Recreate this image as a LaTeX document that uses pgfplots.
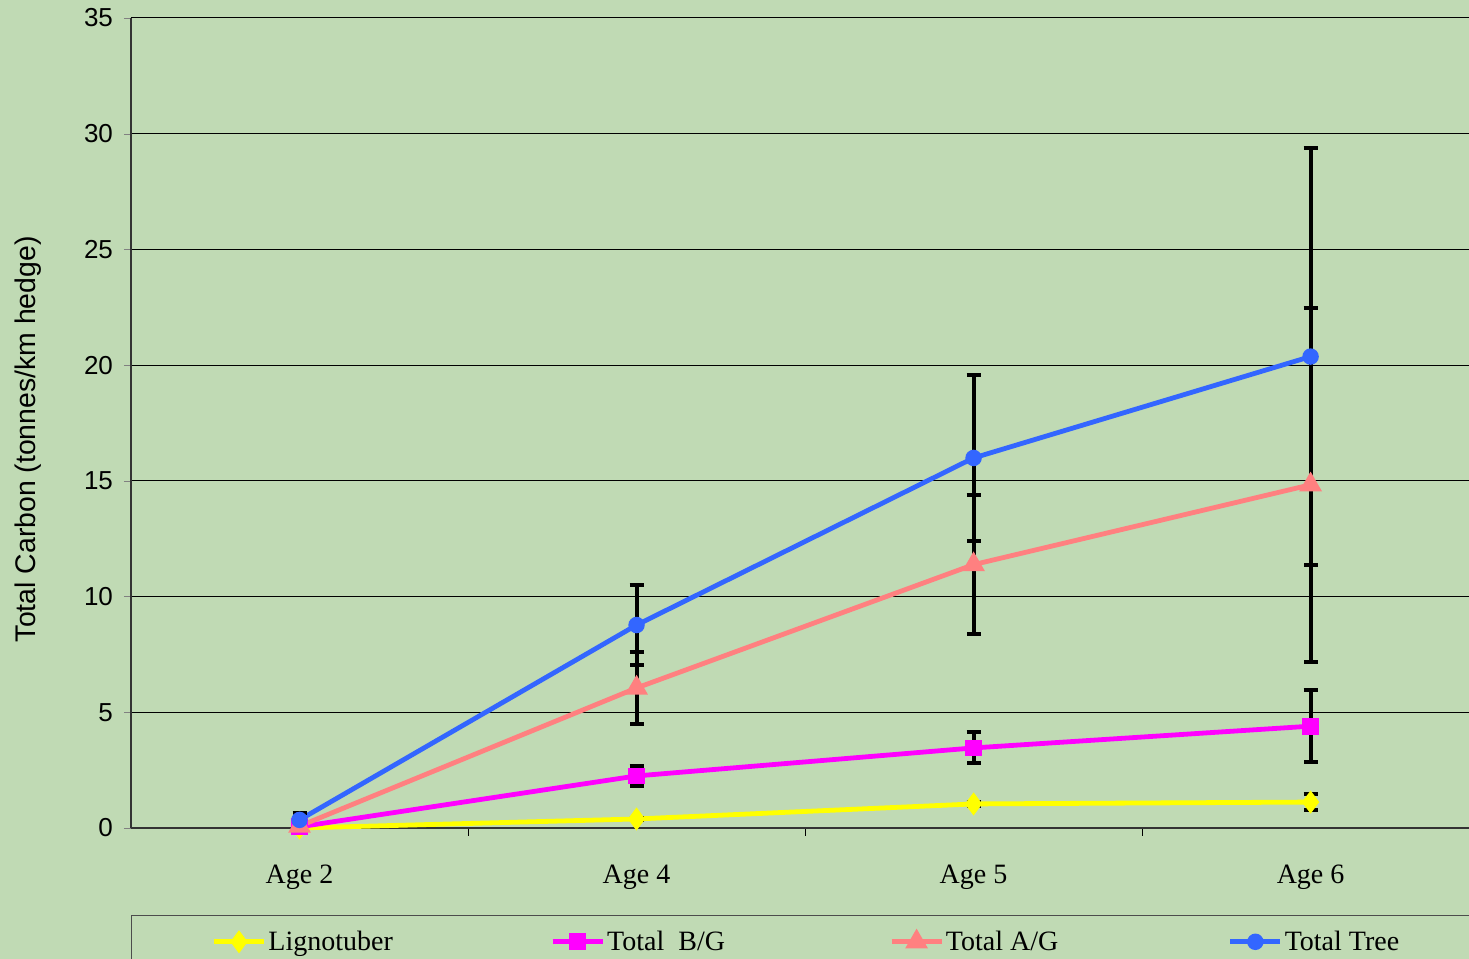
\documentclass[border=0pt]{standalone}
\usepackage{fontspec}
\setmainfont{Liberation Serif}
\newfontfamily\arial{Liberation Sans}
\usepackage{pgfplots}
\pgfplotsset{compat=1.18}
\usetikzlibrary{backgrounds}
\definecolor{bg}{RGB}{192,218,180}
\definecolor{lig}{RGB}{255,255,0}
\definecolor{bgc}{RGB}{255,0,255}
\definecolor{agc}{RGB}{255,128,128}
\definecolor{tree}{RGB}{51,102,255}
\begin{document}
\begin{tikzpicture}
\begin{axis}[name=ax, scale only axis, width=669pt, height=405pt,
 xmin=-0.5, xmax=3.47, ymin=0, ymax=35,
 axis x line=bottom, axis y line=left,
 axis line style={-, black!80, line width=0.6pt},
 xtick={0,1,2,3}, xticklabels={Age 2,Age 4,Age 5,Age 6},
 minor xtick={0.5,1.5,2.5},
 major x tick style={draw=none},
 minor x tick style={black, line width=0.5pt},
 minor tick length=4pt,
 ytick={0,5,...,35},
 major tick length=3.5pt,
 tick align=outside,
 ymajorgrids, grid style={black, line width=0.5pt},
 xticklabel style={font=\fontsize{14}{16}\selectfont, anchor=base, yshift=-24.1pt},
 yticklabel style={font=\arial\fontsize{13}{15}\selectfont, xshift=-2pt},
 yticklabel={\pgfmathprintnumber[assume math mode=true]{\tick}},
 ylabel={Total Carbon (tonnes/km hedge)},
 ylabel style={font=\arial\fontsize{14.2}{16}\selectfont, at={(axis description cs:-0.0765,0.48)}, anchor=center},
 legend columns=4,
 legend style={at={(axis description cs:0,-0.1074)}, anchor=north west, draw=black!70, line width=0.6pt, fill=none, inner xsep=40pt, inner ysep=7.5pt, column sep=0pt, nodes={inner sep=0pt}, font=\fontsize{14}{16}\selectfont},
 legend image code/.code={\draw[mark repeat=2,mark phase=2] plot coordinates {(0pt,0pt)(12.5pt,0pt)(25pt,0pt)};},
 error bars/y dir=both, error bars/y explicit,
 error bars/error bar style={black, line width=2pt},
 error bars/error mark options={rotate=90, black, line width=2pt, mark size=3.5pt},
 clip=false
]
\addplot[color=lig, line width=2.4pt, mark=diamond*, mark size=3.8pt, mark options={solid, fill=lig}]
 coordinates {(0,0) +- (0,0) (1,0.39) +- (0,0.05) (2,1.04) +- (0,0.1) (3,1.12) +- (0,0.35)};
\addlegendentry{\hspace{1pt}\makebox[141pt][l]{Lignotuber}}
\addplot[color=bgc, line width=2.4pt, mark=square*, mark size=3pt, mark options={solid, fill=bgc}]
 coordinates {(0,0.05) +- (0,0.05) (1,2.25) +- (0,0.43) (2,3.46) +- (0,0.67) (3,4.40) +- (0,1.55)};
\addlegendentry{\hspace{1pt}\makebox[141pt][l]{Total\ \ B/G}}
\addplot[color=agc, line width=2.4pt, mark=triangle*, mark size=4.2pt, mark options={solid, fill=agc}]
 coordinates {(0,0.08) +- (0,0.1) (1,6.05) +- (0,1.55) (2,11.38) +- (0,3.0) (3,14.83) +- (0,7.65)};
\addlegendentry{\hspace{1pt}\makebox[141pt][l]{Total A/G}}
\addplot[color=tree, line width=2.4pt, mark=*, mark size=2.9pt, mark options={solid, fill=tree}]
 coordinates {(0,0.35) +- (0,0.3) (1,8.77) +- (0,1.73) (2,15.99) +- (0,3.58) (3,20.37) +- (0,9.0)};
\addlegendentry{\hspace{1pt}\makebox[141pt][l]{Total Tree}}
\end{axis}
\pgfresetboundingbox
\path[use as bounding box] ([shift={(-65.5pt,-65.5pt)}]ax.south west) rectangle ([shift={(669pt,414pt)}]ax.south west);
\begin{scope}[on background layer]
\fill[bg] ([shift={(-65.5pt,-65.5pt)}]ax.south west) rectangle ([shift={(669pt,414pt)}]ax.south west);
\end{scope}
\end{tikzpicture}
\end{document}
